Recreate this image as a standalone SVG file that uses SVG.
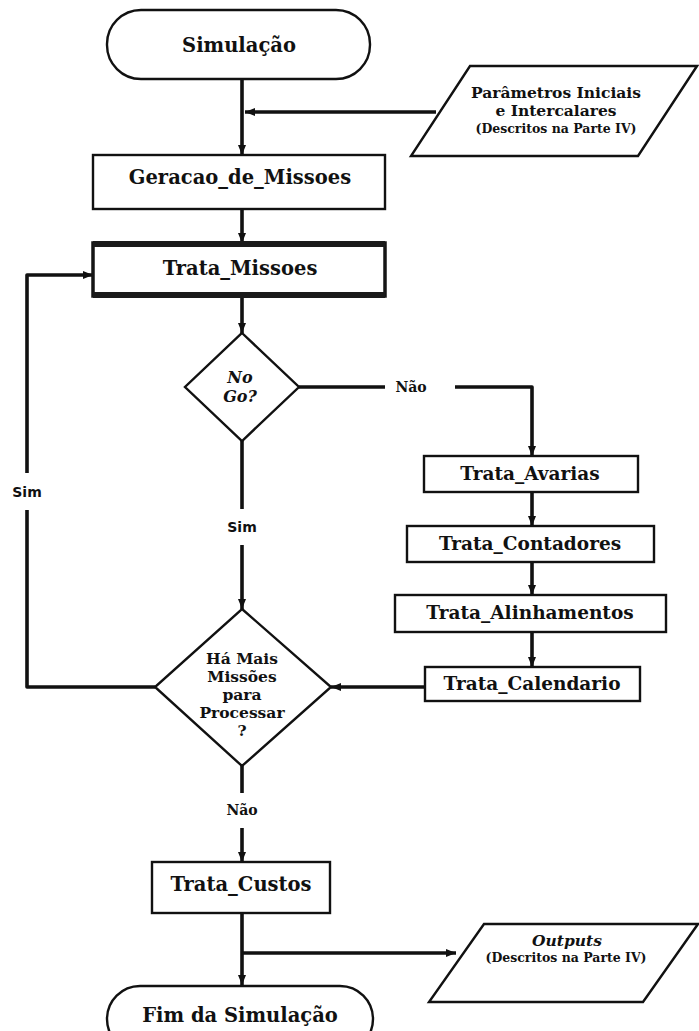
<svg xmlns="http://www.w3.org/2000/svg" width="699" height="1031" viewBox="0 0 699 1031">
  <style>
    .shape { fill: #ffffff; stroke: #111111; stroke-width: 2.4; stroke-linejoin: miter; }
    .heavy { fill: #ffffff; stroke: #151515; stroke-width: 3.5; }
    .band { fill: none; stroke: #1a1a1a; stroke-width: 6; }
    .wire { fill: none; stroke: #111111; stroke-width: 3.6; stroke-linejoin: round; }
    .lbl { font-family: "DejaVu Serif", "Liberation Serif", serif; font-weight: bold; fill: #111111; text-anchor: middle; }
    .big { font-size: 19.5px; }
    .box { font-size: 18.5px; }
    .dec { font-size: 15.5px; }
    .nogo { font-size: 16px; }
    .io { font-size: 15.5px; }
    .small { font-size: 12.5px; }
    .it { font-style: italic; }
    .tag { font-family: "DejaVu Sans", "Liberation Sans", sans-serif; font-weight: bold; font-size: 14px; fill: #111111; text-anchor: middle; }
    .tagserif { font-family: "DejaVu Serif", "Liberation Serif", serif; font-weight: bold; font-size: 14px; fill: #111111; text-anchor: middle; }
  </style>
  <defs>
    <marker id="ah" viewBox="0 0 10 8" refX="10" refY="4" markerWidth="10" markerHeight="8" markerUnits="userSpaceOnUse" orient="auto">
      <path d="M0,0 L10,4 L0,8 z" fill="#111111"/>
    </marker>
  </defs>
  <rect width="699" height="1031" fill="#ffffff"/>

  <!-- connectors and their branch labels -->
  <g id="connectors">
    <path class="wire" d="M242,79 V155" marker-end="url(#ah)"/>
    <path class="wire" d="M436,112 H245" marker-end="url(#ah)"/>
    <path class="wire" d="M242,209 V243" marker-end="url(#ah)"/>
    <path class="wire" d="M242,296 V333" marker-end="url(#ah)"/>
    <path class="wire" d="M299,387 H385"/>
    <path class="wire" d="M455,387 H532 V456" marker-end="url(#ah)"/>
    <path class="wire" d="M532,492 V526" marker-end="url(#ah)"/>
    <path class="wire" d="M532,562 V595" marker-end="url(#ah)"/>
    <path class="wire" d="M532,632 V667" marker-end="url(#ah)"/>
    <path class="wire" d="M425,687 H331" marker-end="url(#ah)"/>
    <path class="wire" d="M242,441 V509"/>
    <path class="wire" d="M242,545 V609" marker-end="url(#ah)"/>
    <path class="wire" d="M155,687 H27 V510"/>
    <path class="wire" d="M27,473 V275 H93" marker-end="url(#ah)"/>
    <path class="wire" d="M242,766 V793"/>
    <path class="wire" d="M242,828 V862" marker-end="url(#ah)"/>
    <path class="wire" d="M242,913 V985" marker-end="url(#ah)"/>
    <path class="wire" d="M242,953 H456" marker-end="url(#ah)"/>
    <text class="tagserif" x="411" y="392">Não</text>
    <text class="tag" x="242" y="532">Sim</text>
    <text class="tag" x="27" y="497">Sim</text>
    <text class="tagserif" x="242" y="815">Não</text>
  </g>

  <g id="inicio">
    <rect class="shape" x="107" y="10" width="263" height="69" rx="34"/>
    <text class="lbl big" x="239" y="52">Simulação</text>
  </g>

  <g id="parametros">
    <polygon class="shape" points="470,66 697,66 638,156 411,156"/>
    <text class="lbl io" x="556" y="98">Parâmetros Iniciais</text>
    <text class="lbl io" x="556" y="116">e Intercalares</text>
    <text class="lbl small" x="556" y="133">(Descritos na Parte IV)</text>
  </g>

  <g id="geracao">
    <rect class="shape" x="93" y="155" width="292" height="54"/>
    <text class="lbl big" x="240" y="184">Geracao_de_Missoes</text>
  </g>

  <!-- heavier top and bottom edges on this box -->
  <g id="trata-missoes">
    <rect class="heavy" x="93" y="243" width="292" height="53"/>
    <path class="band" d="M93,244 H385 M93,295 H385"/>
    <text class="lbl big" x="240" y="275">Trata_Missoes</text>
  </g>

  <g id="no-go">
    <polygon class="shape" points="242,333 299,387 242,441 185,387"/>
    <text class="lbl nogo it" x="240" y="383">No</text>
    <text class="lbl nogo it" x="240" y="402">Go?</text>
  </g>

  <g id="avarias">
    <rect class="shape" x="424" y="456" width="214" height="36"/>
    <text class="lbl box" x="530" y="480">Trata_Avarias</text>
  </g>

  <g id="contadores">
    <rect class="shape" x="407" y="526" width="247" height="36"/>
    <text class="lbl box" x="530" y="550">Trata_Contadores</text>
  </g>

  <g id="alinhamentos">
    <rect class="shape" x="395" y="595" width="271" height="37"/>
    <text class="lbl box" x="530" y="619">Trata_Alinhamentos</text>
  </g>

  <g id="calendario">
    <rect class="shape" x="425" y="667" width="215" height="34"/>
    <text class="lbl box" x="532" y="690">Trata_Calendario</text>
  </g>

  <g id="mais-missoes">
    <polygon class="shape" points="242,609 331,687 242,766 155,687"/>
    <text class="lbl dec" x="242" y="664">Há Mais</text>
    <text class="lbl dec" x="242" y="682">Missões</text>
    <text class="lbl dec" x="242" y="700">para</text>
    <text class="lbl dec" x="242" y="718">Processar</text>
    <text class="lbl dec" x="242" y="736">?</text>
  </g>

  <g id="custos">
    <rect class="shape" x="152" y="862" width="178" height="51"/>
    <text class="lbl big" x="241" y="891">Trata_Custos</text>
  </g>

  <g id="outputs">
    <polygon class="shape" points="484,924 698,924 643,1002 429,1002"/>
    <text class="lbl io it" x="567" y="946">Outputs</text>
    <text class="lbl small" x="566" y="962">(Descritos na Parte IV)</text>
  </g>

  <g id="fim">
    <rect class="shape" x="107" y="986" width="266" height="66" rx="33"/>
    <text class="lbl big" x="240" y="1022">Fim da Simulação</text>
  </g>
</svg>
